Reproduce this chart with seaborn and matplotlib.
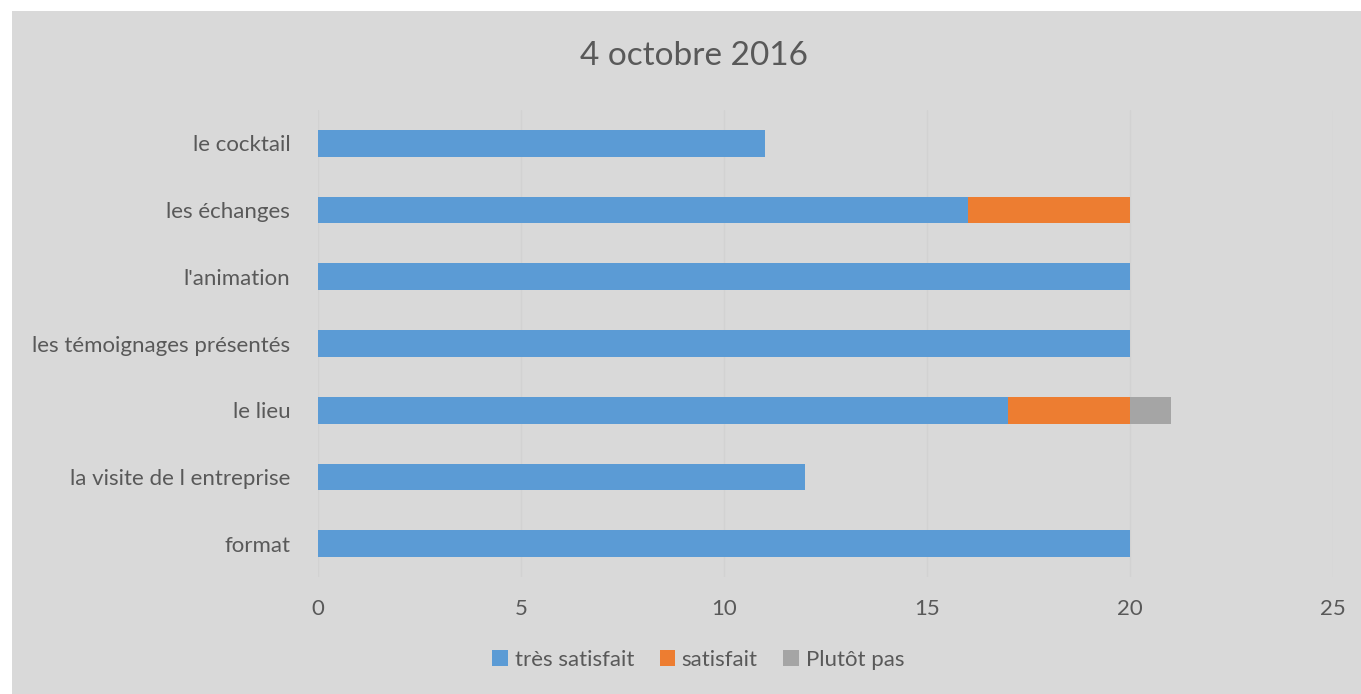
import numpy as np
import pandas as pd
import matplotlib
matplotlib.use('Agg')
import matplotlib.pyplot as plt
import seaborn as sns
from matplotlib.patches import Rectangle, Patch

# Data
categories = ['le cocktail', 'les échanges', "l'animation", 'les témoignages présentés',
              'le lieu', 'la visite de l entreprise', 'format']
tres_satisfait = [11, 16, 20, 20, 17, 12, 20]
satisfait = [0, 4, 0, 0, 3, 0, 0]
plutot_pas = [0, 0, 0, 0, 1, 0, 0]
series_names = ['très satisfait', 'satisfait', 'Plutôt pas']
colors = ['#5B9BD5', '#ED7D31', '#A5A5A5']
title = '4 octobre 2016'

df = pd.DataFrame({'categorie': categories,
                   series_names[0]: tres_satisfait,
                   series_names[1]: satisfait,
                   series_names[2]: plutot_pas})
# cumulative totals so the stacked bars can be drawn back-to-front
cum = df[series_names].cumsum(axis=1)

sns.set_style('white')
plt.rcParams['font.family'] = ['Lato', 'DejaVu Sans']
text_col = '#595959'
bg = '#D9D9D9'

fig = plt.figure(figsize=(13.61, 6.94), dpi=100)
fig.patch.set_facecolor('white')
fig.patches.append(Rectangle((12 / 1361, 0), 1 - 12 / 1361, 1 - 11 / 694,
                             transform=fig.transFigure, facecolor=bg,
                             edgecolor='none', zorder=-10))

ax = fig.add_axes([318 / 1361, 1 - 577 / 694, (1333 - 318) / 1361, (577 - 110) / 694])
ax.patch.set_alpha(0)

for name, col in reversed(list(zip(series_names, colors))):
    sns.barplot(x=cum[name], y=df['categorie'], orient='h', color=col,
                width=0.4, saturation=1, linewidth=0, ax=ax, zorder=3)

ax.set_xlim(0, 25)
ax.set_xticks([0, 5, 10, 15, 20, 25])
ax.grid(axis='x', color='#D2D2D2', linewidth=1, zorder=0)
ax.set_axisbelow(True)
for s in ax.spines.values():
    s.set_visible(False)
ax.tick_params(axis='both', length=0, labelsize=16, colors=text_col)
ax.tick_params(axis='y', pad=20)
ax.tick_params(axis='x', pad=16)
ax.set_xlabel('')
ax.set_ylabel('')

fig.text(0.51, 1 - 56 / 694, title, ha='center', va='center', fontsize=24, color=text_col)

handles = [Patch(facecolor=c, edgecolor='none') for c in colors]
fig.legend(handles, series_names, loc='center', bbox_to_anchor=(0.513, 1 - 660 / 694),
           ncol=3, frameon=False, fontsize=16, labelcolor=text_col,
           handlelength=0.7, handleheight=0.7, handletextpad=0.3, columnspacing=1.15)

fig.savefig('out.png', dpi=100, facecolor='white')
